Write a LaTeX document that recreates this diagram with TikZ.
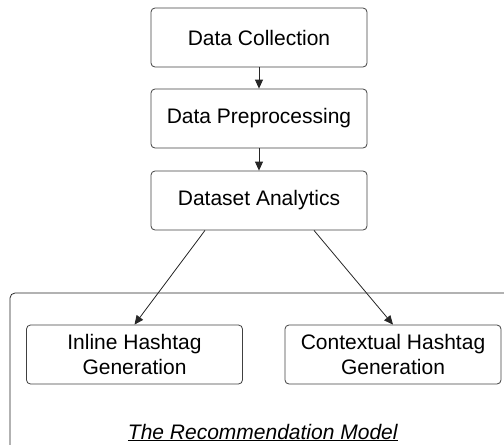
\documentclass[tikz,border=0pt]{standalone}
\usepackage{fontspec}
\setmainfont{Liberation Sans}
\usetikzlibrary{arrows.meta}

\begin{document}
\begin{tikzpicture}[x=1pt,y=-1pt,
   stage/.style={draw=black!75,line width=0.8pt,rounded corners=4pt,minimum width=216pt,minimum height=59pt,align=center,font=\fontsize{21}{25}\selectfont},
   flow/.style={-{Triangle[length=9pt,width=8pt]},line width=0.8pt,black!85}]
   % Page area
   \useasboundingbox (0,0) rectangle (504,445);
   \clip (0,0) rectangle (504,445);
   % Pipeline stages
   \node[stage] (collect) at (259,37.5) {Data Collection};
   \node[stage] (prep) at (259,118.5) {Data Preprocessing};
   \node[stage] (analytics) at (259,200.5) {Dataset Analytics};
   % Recommendation model frame
   \draw[black!85,line width=0.8pt,rounded corners=5pt] (10,293) rectangle (530,452);
   \node[stage] (inline) at (134.5,354.5) {Inline Hashtag\\Generation};
   \node[stage] (context) at (393,354.5) {Contextual Hashtag\\Generation};
   \node[font=\fontsize{21}{25}\selectfont,anchor=base] (model) at (263,439) {\underline{\textit{The Recommendation Model}}};
   % Connectors
   \draw[flow] (collect) -- (prep);
   \draw[flow] (prep) -- (analytics);
   \draw[flow] ([xshift=-54pt]analytics.south) -- (inline.north);
   \draw[flow] ([xshift=55pt]analytics.south) -- (context.north);
\end{tikzpicture}
\end{document}
